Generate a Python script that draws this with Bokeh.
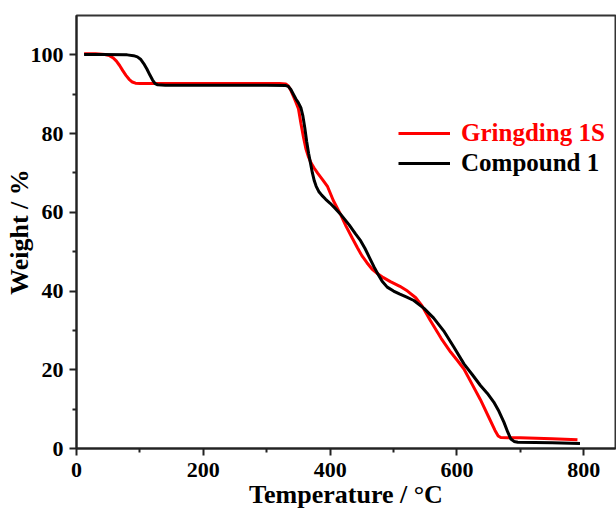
from bokeh.plotting import figure
from bokeh.models import Range1d, Legend, LegendItem, FixedTicker
from bokeh.embed import file_html
from bokeh.resources import INLINE

# Compound 1 (black)
c1_temp = [12, 40, 80, 90, 96, 101, 106, 111, 116, 120, 124, 128, 140, 200, 300, 330,
           334, 338, 342, 346, 350, 354, 357, 360, 363, 366, 369, 372, 375, 378, 382,
           387, 393, 400, 408, 416, 430, 440, 448, 455, 462, 469, 475, 482, 490, 500,
           510, 520, 532, 548, 563, 579, 595, 611, 624, 637, 648, 658, 666, 674, 680,
           685, 690, 696, 750, 794]
c1_weight = [100.1, 100.1, 100.0, 99.8, 99.5, 98.9, 97.8, 96.4, 94.8, 93.6, 92.7, 92.4,
             92.3, 92.3, 92.3, 92.2, 92.0, 91.2, 90.0, 88.8, 87.8, 86.5, 84.5, 81.5,
             78.0, 75.0, 72.5, 70.0, 68.0, 66.6, 65.3, 64.3, 63.3, 62.3, 61.0, 59.6,
             56.8, 54.5, 52.8, 50.8, 48.5, 46.2, 44.4, 42.5, 41.0, 40.0, 39.2, 38.5,
             37.6, 35.6, 33.2, 29.9, 25.8, 21.5, 18.8, 16.0, 14.0, 11.8, 9.5, 6.7,
             4.2, 2.4, 1.8, 1.6, 1.45, 1.3]

# Gringding 1S (red)
g1_temp = [12, 30, 45, 52, 58, 63, 68, 73, 78, 83, 88, 93, 100, 150, 250, 320, 330, 334,
           338, 342, 346, 350, 354, 358, 362, 366, 370, 375, 380, 388, 396, 405, 416,
           425, 435, 443, 450, 458, 466, 475, 484, 495, 510, 522, 535, 545, 558, 575,
           590, 601, 611, 624, 637, 650, 660, 665, 669, 680, 700, 750, 790]
g1_weight = [100.3, 100.3, 100.1, 99.8, 99.2, 98.4, 97.3, 96.0, 94.8, 93.8, 93.1, 92.8,
             92.7, 92.7, 92.7, 92.7, 92.6, 92.1, 91.0, 89.5, 88.0, 86.3, 82.5, 79.0,
             76.0, 74.0, 72.5, 71.2, 70.0, 68.3, 66.5, 63.0, 59.6, 56.5, 53.4, 51.0,
             49.0, 47.2, 45.6, 44.4, 43.4, 42.4, 41.2, 40.0, 38.3, 36.2, 32.5, 28.0,
             24.5, 22.3, 20.2, 16.3, 12.4, 8.0, 4.6, 3.2, 2.8, 2.75, 2.7, 2.5, 2.2]

x_ticks = [0, 200, 400, 600, 800]
y_ticks = [0, 20, 40, 60, 80, 100]
series_names = ["Gringding 1S", "Compound 1"]
x_title = "Temperature / °C"
y_title = "Weight / %"

FONT = "Liberation Serif"
RED = "#ff0000"

p = figure(width=616, height=513, output_backend="svg", toolbar_location=None,
           x_range=Range1d(0, 850), y_range=Range1d(0, 110),
           min_border_left=76, min_border_right=1, min_border_top=15, min_border_bottom=65)

p.grid.visible = False
p.outline_line_color = "#333333"
p.outline_line_width = 2
p.background_fill_color = "white"
p.border_fill_color = "white"

for ax in (p.xaxis[0], p.yaxis[0]):
    ax.axis_line_width = 2
    ax.axis_line_color = "#222222"
    ax.major_tick_line_color = "#222222"
    ax.minor_tick_line_color = "#222222"
    ax.major_tick_line_width = 2
    ax.minor_tick_line_width = 2
    ax.major_tick_in = 0
    ax.major_tick_out = 7
    ax.minor_tick_in = 0
    ax.minor_tick_out = 4
    ax.major_label_text_font = FONT
    ax.major_label_text_font_style = "bold"
    ax.major_label_text_font_size = "22px"
    ax.major_label_text_color = "black"
    ax.axis_label_text_font = FONT
    ax.axis_label_text_font_style = "bold"
    ax.axis_label_text_font_size = "26px"
    ax.axis_label_text_color = "black"
    ax.axis_label_standoff = 0

p.xaxis[0].ticker = FixedTicker(ticks=x_ticks, minor_ticks=[100, 300, 500, 700])
p.yaxis[0].ticker = FixedTicker(ticks=y_ticks, minor_ticks=[10, 30, 50, 70, 90])
p.xaxis[0].major_label_standoff = 7
p.yaxis[0].major_label_standoff = 6
p.yaxis[0].axis_label_standoff = -6
p.xaxis[0].axis_label = x_title
p.yaxis[0].axis_label = y_title

r_g = p.line(g1_temp, g1_weight, line_color=RED, line_width=3)
r_c = p.line(c1_temp, c1_weight, line_color="black", line_width=3)

# Legends (two, so each label can take its own colour)
def make_legend(renderer, name, color, loc):
    return Legend(items=[LegendItem(label=name, renderers=[renderer])], location=loc,
                  padding=0, margin=0, spacing=0, glyph_width=52, glyph_height=30,
                  label_height=30, label_standoff=11, border_line_color=None,
                  background_fill_alpha=0, label_text_font=FONT,
                  label_text_font_style="bold", label_text_font_size="25px",
                  label_text_color=color)

p.add_layout(make_legend(r_g, series_names[0], RED, (322, 300)))
p.add_layout(make_legend(r_c, series_names[1], "black", (322, 270)))

open("out.html", "w").write(file_html(p, INLINE))
